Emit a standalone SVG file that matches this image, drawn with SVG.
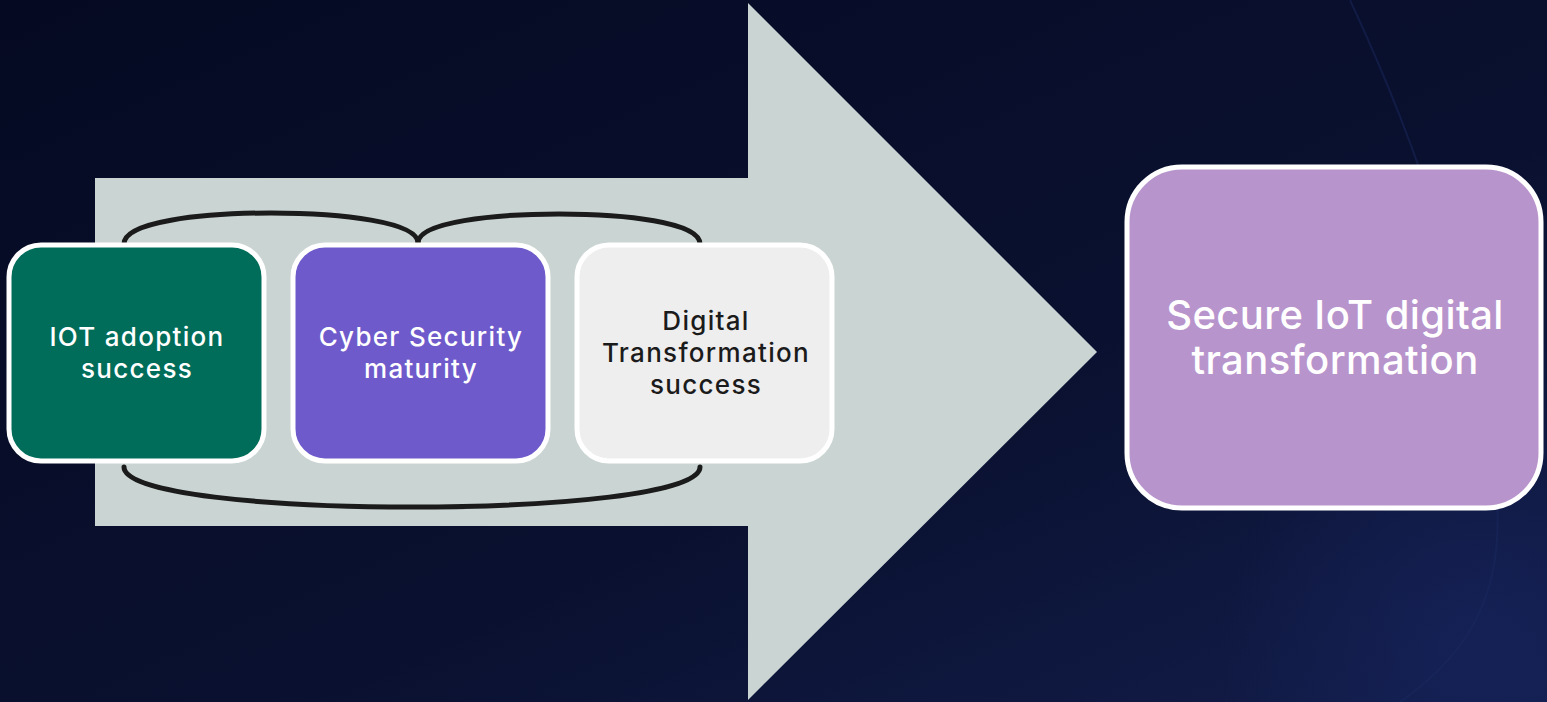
<svg xmlns="http://www.w3.org/2000/svg" width="1547" height="702" viewBox="0 0 1547 702">
  <defs>
    <linearGradient id="bg" x1="0" y1="0" x2="1" y2="1">
      <stop offset="0" stop-color="#050a22"/>
      <stop offset="0.6" stop-color="#0a1130"/>
      <stop offset="1" stop-color="#121d4a"/>
    </linearGradient>
    <radialGradient id="glow" cx="1480" cy="650" r="260" gradientUnits="userSpaceOnUse">
      <stop offset="0" stop-color="#16235a" stop-opacity="0.8"/>
      <stop offset="1" stop-color="#16235a" stop-opacity="0"/>
    </radialGradient>
  </defs>
  <style>
    .box { stroke: #ffffff; stroke-width: 5; }
    .lbl { font-family: "Inter", "Liberation Sans", sans-serif; font-size: 26px; text-anchor: middle; font-weight: 500; letter-spacing: 1.3px; }
    .big { font-family: "Inter", "Liberation Sans", sans-serif; font-size: 40px; text-anchor: middle; font-weight: 500; fill: #ffffff; letter-spacing: 0.4px; }
    .brace { fill: none; stroke: #1b1b1b; stroke-width: 5; stroke-linecap: round; }
  </style>
  <rect x="0" y="0" width="1547" height="702" fill="url(#bg)"/>
  <rect x="0" y="0" width="1547" height="702" fill="url(#glow)"/>
  <path d="M1350,0 C1420,150 1470,300 1495,480 C1510,600 1460,660 1400,702" fill="none" stroke="#1a275e" stroke-opacity="0.5" stroke-width="2"/>

  <g id="arrow">
    <polygon points="95,178 748,178 748,3 1097,352 748,700 748,526 95,526" fill="#cad4d3"/>
  </g>

  <g id="connectors">
    <path class="brace" d="M124,244 C124,222 200,213 271,213 C342,213 418,222 418,243"/>
    <path class="brace" d="M418,243 C418,222 494,214 559,214 C624,214 700,222 700,244"/>
    <path class="brace" d="M124,467 C124,494 270,507 412,507 C554,507 700,494 700,467"/>
  </g>

  <g id="node-iot">
    <rect class="box" x="9" y="245" width="255" height="216" rx="32" fill="#006d5a"/>
    <text class="lbl" x="137" y="346" fill="#ffffff">IOT adoption</text>
    <text class="lbl" x="137" y="378" fill="#ffffff">success</text>
  </g>

  <g id="node-cyber">
    <rect class="box" x="293" y="245" width="255" height="216" rx="32" fill="#6e5acb"/>
    <text class="lbl" x="421" y="346" fill="#ffffff">Cyber Security</text>
    <text class="lbl" x="421" y="378" fill="#ffffff">maturity</text>
  </g>

  <g id="node-digital">
    <rect class="box" x="577" y="245" width="255" height="216" rx="32" fill="#efeeef"/>
    <text class="lbl" x="706" y="330" fill="#1b1b1b">Digital</text>
    <text class="lbl" x="706" y="362" fill="#1b1b1b">Transformation</text>
    <text class="lbl" x="706" y="394" fill="#1b1b1b">success</text>
  </g>

  <g id="node-secure">
    <rect class="box" x="1127" y="167" width="414" height="341" rx="55" fill="#b894cc"/>
    <text class="big" x="1335" y="329">Secure IoT digital</text>
    <text class="big" x="1335" y="374">transformation</text>
  </g>
</svg>
